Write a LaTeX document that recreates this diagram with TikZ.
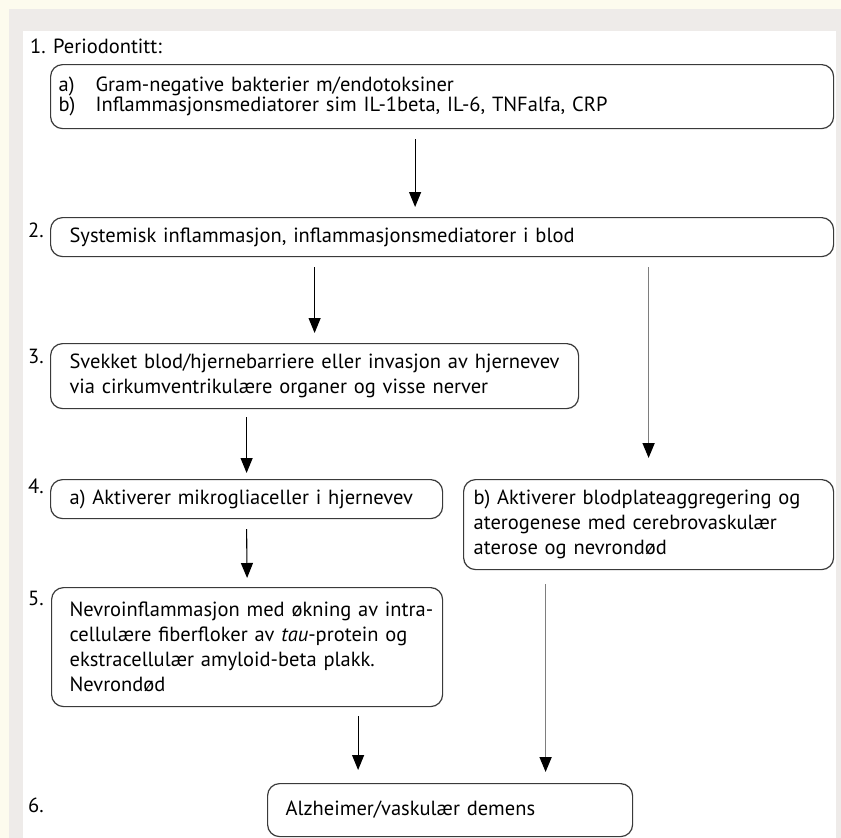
\documentclass[tikz,border=0pt]{standalone}
\usepackage{fontspec}
\setmainfont{PT Sans}
\usepackage{tikz}
\usetikzlibrary{arrows.meta}
\definecolor{gulkant}{HTML}{FDFBEE}
\definecolor{graakant}{HTML}{EEEBE9}
\definecolor{boksstrek}{HTML}{3A3A3A}
\definecolor{graapil}{HTML}{7E7E7E}
\newcommand{\tekst}{\fontsize{20.5}{25}\selectfont}
\tikzset{boks/.style={draw=boksstrek,line width=1.2pt,rounded corners=12pt,anchor=north west,align=left,inner xsep=6pt,inner ysep=2pt,font=\tekst},
         innrykk/.style={execute at begin node={\leftskip=#1\relax}},
         nr/.style={anchor=west,inner sep=0pt,font=\tekst},
         pil/.style={draw=black,line width=1.1pt,-{Triangle[width=12pt,length=15pt,black]}},
         graapil/.style={draw=graapil,line width=1.7pt,-{Triangle[width=12pt,length=15pt,black]}}}

\begin{document}
\begin{tikzpicture}[x=1pt,y=-1pt]
        \useasboundingbox (0,0) rectangle (841,838);
        \fill[gulkant] (0,0) rectangle (841,838);
        \fill[graakant] (9,9) rectangle (841,838);
        \fill[white] (23,31) rectangle (836,838);

        \node[nr] (n1)at (30,46) {\makebox[23pt][l]{1.}Periodontitt:};
        \node[boks,innrykk=2pt,text width=771pt,minimum height=64pt,font=\fontsize{20.5}{19.5}\selectfont] (p1)at (50,64)
            {\makebox[37pt][l]{a)}Gram-negative bakterier m/endotoksiner\\
             \makebox[37pt][l]{b)}Inflammasjonsmediatorer sim IL-1beta, IL-6, TNFalfa, CRP};
        \node[nr] (n2)at (28,230) {2.};
        \node[boks,innrykk=13pt,text width=771pt,minimum height=39pt] (sys)at (50,217)
            {Systemisk inflammasjon, inflammasjonsmediatorer i blod};
        \node[nr] (n3)at (28,356) {3.};
        \node[boks,innrykk=13pt,text width=516pt,minimum height=65pt] (bbb)at (50,343)
            {Svekket blod/hjernebarriere eller invasjon av hjernevev\\via cirkumventrikulære organer og visse nerver};
        \node[nr] (n4)at (28,486) {4.};
        \node[boks,innrykk=13pt,text width=380pt,minimum height=39pt] (mikro)at (50,479)
            {a) Aktiverer mikrogliaceller i hjernevev};
        \node[boks,innrykk=4pt,text width=358pt,minimum height=90pt] (blodpl)at (463,479)
            {b) Aktiverer blodplateaggregering og\\aterogenese med cerebrovaskulær\\aterose og nevrondød};
        \node[nr] (n5)at (28,598) {5.};
        \node[boks,innrykk=12pt,text width=379pt,minimum height=119pt] (nevro)at (51,587)
            {Nevroinflammasjon med økning av intra-\\cellulære fiberfloker av \textit{tau}-protein og\\ekstracellulær amyloid-beta plakk.\\Nevrondød};
        \node[nr] (n6)at (28,805) {6.};
        \node[boks,innrykk=12pt,text width=353pt,minimum height=53pt] (demens)at (267,783)
            {Alzheimer/vaskulær demens};

        \draw [pil] ([xshift=-27pt,yshift=-10pt]p1.south) to ([xshift=-27pt,yshift=10pt]p1.south |- sys.north);
        \draw [pil] ([yshift=-10pt]sys.south -| bbb.north) to ([yshift=10pt]bbb.north);
        \draw [graapil] ([yshift=-10pt]sys.south -| blodpl.north) to ([yshift=21pt]blodpl.north);
        \draw [pil] ([yshift=-8pt]bbb.south -| mikro.north) to ([yshift=6pt]mikro.north);
        \draw [pil] ([yshift=-10pt]mikro.south) to ([yshift=9pt]nevro.north);
        \draw [pil] ([xshift=111pt,yshift=-9pt]nevro.south) to ([xshift=111pt,yshift=13pt]nevro.south |- demens.north);
        \draw [graapil] ([xshift=-103pt,yshift=-14pt]blodpl.south) to ([xshift=-103pt,yshift=11pt]blodpl.south |- demens.north);
    \end{tikzpicture}
\end{document}
